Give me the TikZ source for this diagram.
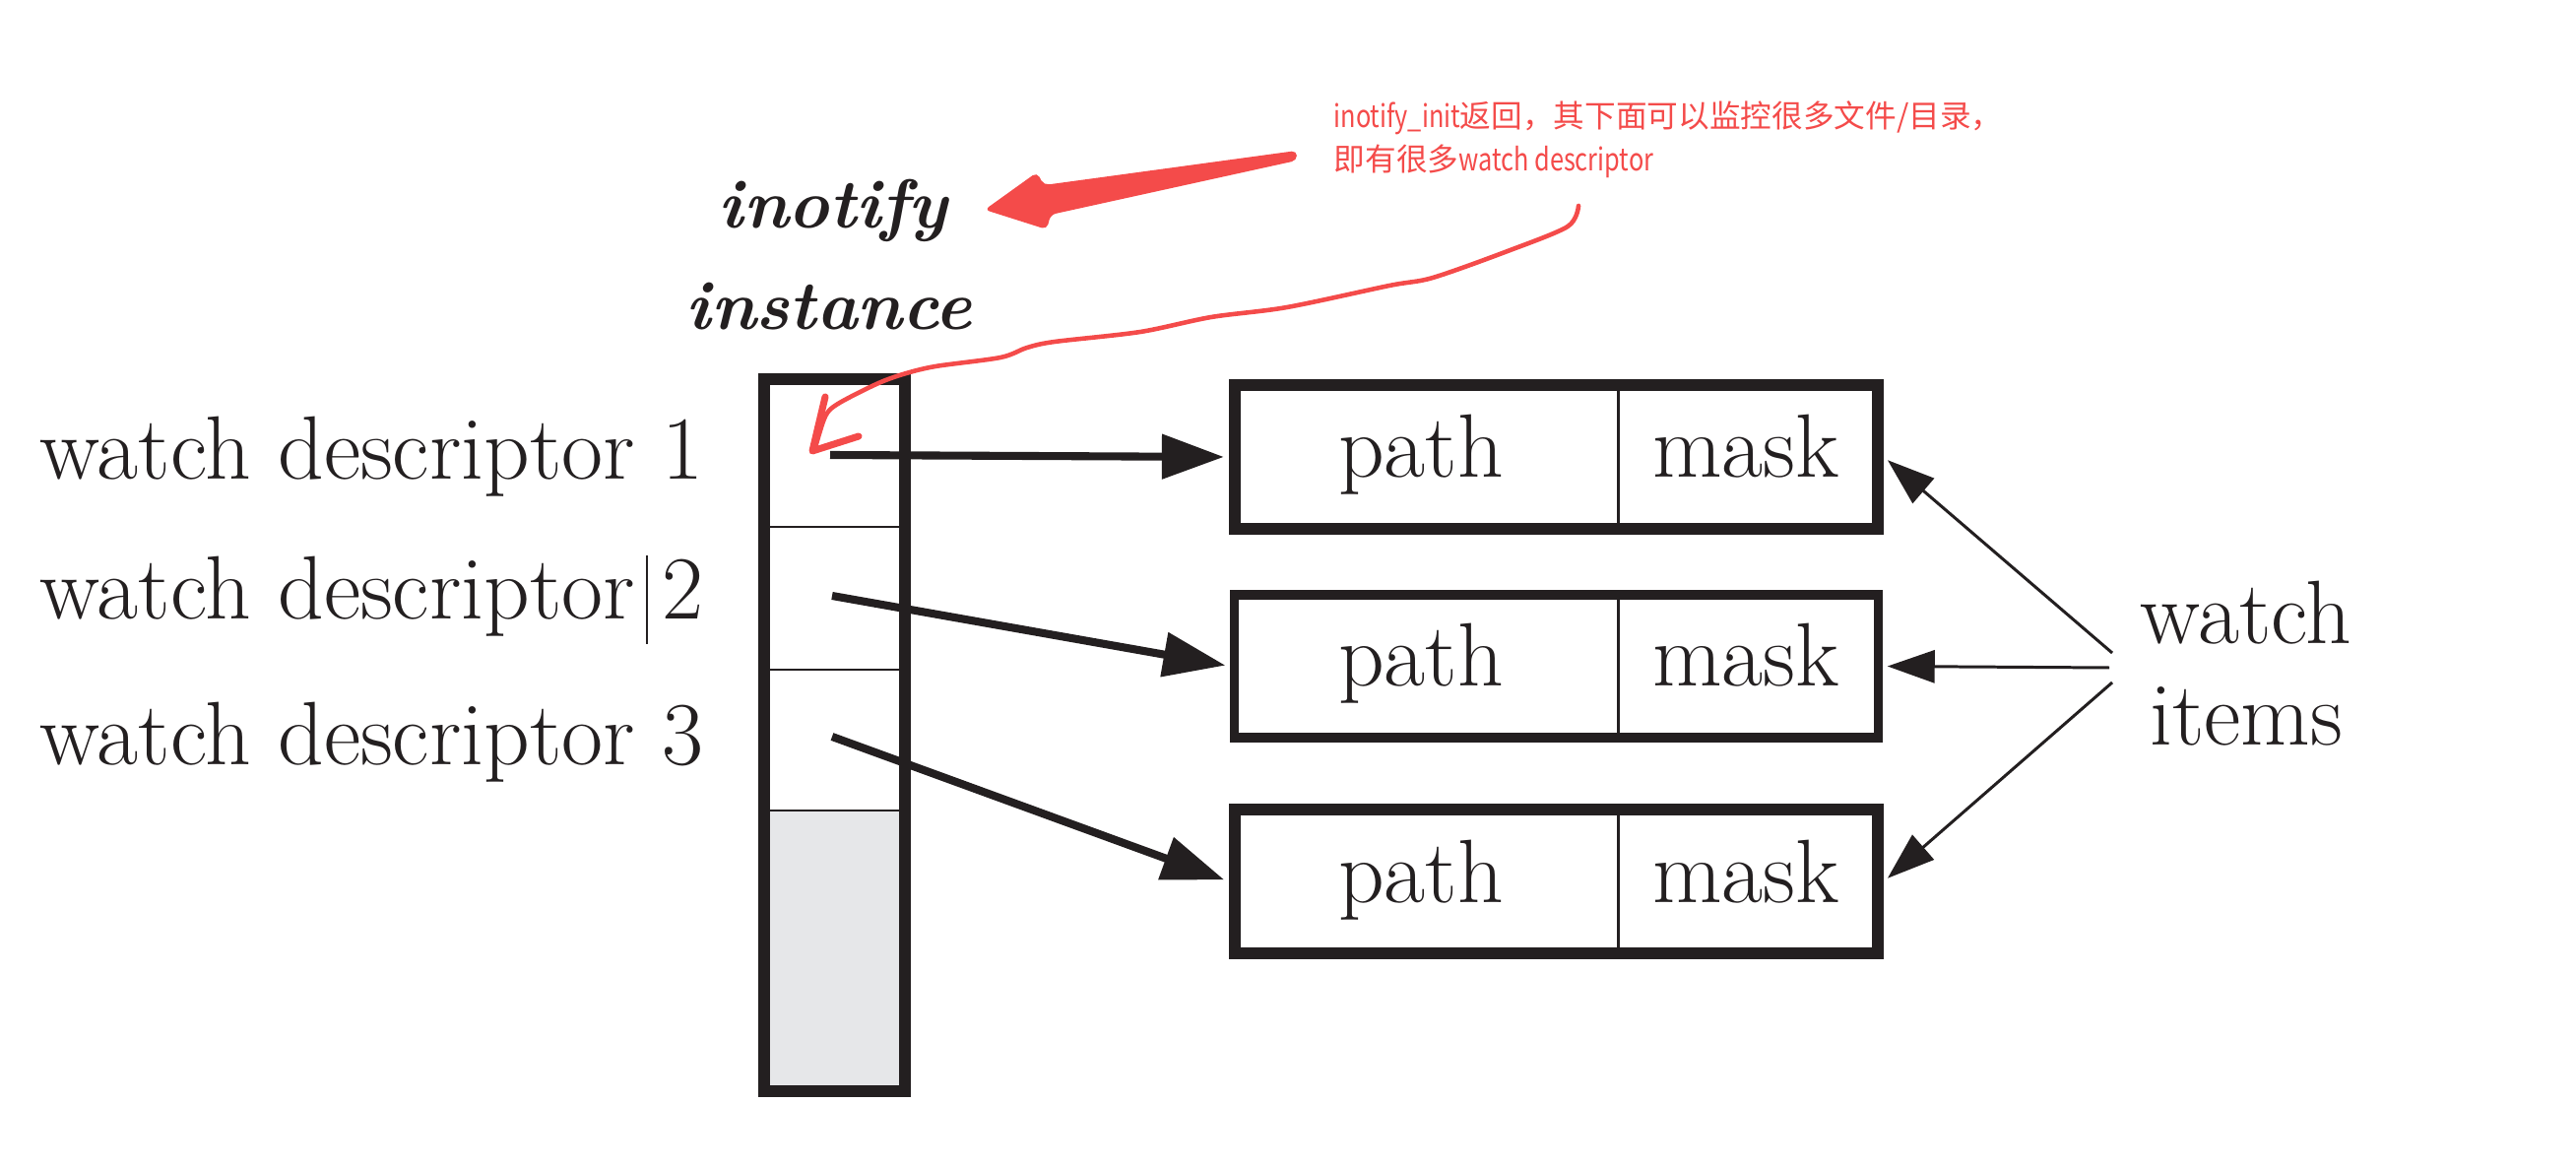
\documentclass[tikz,border=0pt]{standalone}
\usepackage{fontspec}
\usetikzlibrary{arrows.meta}
\newfontfamily\cjkfont{Noto Sans CJK SC}
\newfontfamily\cjklatin{Noto Sans CJK SC}[FakeStretch=0.8]
\definecolor{ink}{RGB}{35,31,32}
\definecolor{annored}{RGB}{244,75,74}
\definecolor{cellgray}{RGB}{230,231,233}
\begin{document}
\begin{tikzpicture}[x=0.01cm,y=-0.01cm,
	txt/.style={font=\fontsize{26}{30}\selectfont,text=ink,inner sep=0pt},
	title/.style={font=\fontsize{20}{24}\selectfont\bfseries\itshape,text=ink,inner sep=0pt,anchor=base},
	item/.style={draw=ink,line width=3.4pt,minimum width=6.53cm,minimum height=1.45cm,inner sep=0pt},
	divider/.style={draw=ink,line width=0.85pt},
	ptr/.style={draw=ink,line width=2.3pt,-{Triangle[length=0.63cm,width=0.44cm]},shorten >=1.4pt},
	back/.style={draw=ink,line width=0.85pt,-{Triangle[length=0.48cm,width=0.33cm]},shorten >=1.4pt},
	note/.style={font=\cjkfont\fontsize{9}{12.5}\selectfont,text=annored,inner sep=0pt,anchor=base west}]
	\useasboundingbox (0,0) rectangle (2616,1186);
	\fill[cellgray] (776,823) rectangle (919,1108);
	\node[draw=ink,line width=3.4pt,minimum width=1.43cm,minimum height=7.23cm,inner sep=0pt] (inst) at (847.5,746.5) {};
	\draw[divider] (776,535) -- (919,535);
	\draw[divider] (776,680) -- (919,680);
	\draw[divider] (776,823) -- (919,823);
	\node[title] (ino) at (846,232) {inotify};
	\node[title] (instance) at (842,335) {instance};
	\node[txt,anchor=base east] (wd1) at (715,487) {watch descriptor 1};
	\node[txt,anchor=base east] (wd2) at (715,629) {watch descriptor 2};
	\node[txt,anchor=base east] (wd3) at (715,776) {watch descriptor 3};
	\draw[draw=ink,line width=0.7pt] (657,564) -- (657,654);
	\node[item] (item1) at (1580.5,464) {};
	\node[item,line width=2.6pt] (item2) at (1580.5,676.5) {};
	\node[item] (item3) at (1580.5,895) {};
	\draw[divider] (1643,391) -- (1643,537);
	\draw[divider] (1643,604) -- (1643,749);
	\draw[divider] (1643,823) -- (1643,967);
	\node[txt,anchor=base] (path1) at (1443,485) {path};
	\node[txt,anchor=base] (mask1) at (1773,485) {mask};
	\node[txt,anchor=base] (path2) at (1443,697) {path};
	\node[txt,anchor=base] (mask2) at (1773,697) {mask};
	\node[txt,anchor=base] (path3) at (1443,916) {path};
	\node[txt,anchor=base] (mask3) at (1773,916) {mask};
	\coordinate (d1) at (843,462);
	\coordinate (d2) at (845,605);
	\coordinate (d3) at (845,748);
	\draw[ptr] (d1) -- (item1.west);
	\draw[ptr] (d2) -- (item2.west);
	\draw[ptr] (d3) -- (item3.west);
	\node[txt,anchor=base] (watch) at (2281,654) {watch};
	\node[txt,anchor=base] (items) at (2281,756) {items};
	\coordinate (w1) at (2145,663);
	\coordinate (w2) at (2142,678);
	\coordinate (w3) at (2145,693);
	\draw[back] (w1) -- (item1.east);
	\draw[back] (w2) -- (item2.east);
	\draw[back] (w3) -- (item3.east);
	\node[note] (note1) at (1354,130) {{\cjklatin inotify\_init}返回，其下面可以监控很多文件/目录，};
	\node[note] (note2) at (1354,174) {即有很多{\cjklatin watch descriptor}};
	\fill[annored,rounded corners=1.5pt] (1317,153) -- (1060,188) -- (1053,175) -- (1000,213) -- (1063,233) -- (1067,218) -- (1317,163) -- cycle;
	\draw[annored,line width=1.3pt,line cap=round] plot[smooth] coordinates {(1603,209) (1592,230) (1531,255) (1455,282) (1411,290) (1307,312) (1230,322) (1158,337) (1071,347) (1043,353) (1016,363) (950,372) (917,380) (890,390) (851,410) (838,423) (827,458)};
	\draw[annored,line width=2pt,line cap=round,line join=round] (838,403) -- (825,458) -- (872,443);
\end{tikzpicture}
\end{document}
